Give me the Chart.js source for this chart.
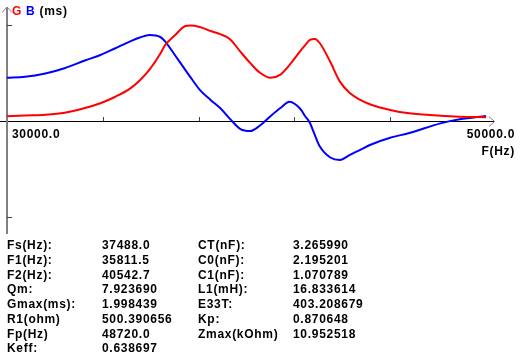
<!DOCTYPE html>
<html>
<head>
<meta charset="utf-8">
<script src="https://cdn.jsdelivr.net/npm/chart.js@4"></script>
<style>
  html, body { margin: 0; padding: 0; background: #fff; }
  #wrap { position: relative; width: 521px; height: 360px; overflow: hidden; }
  canvas { position: absolute; left: 0; top: 0; }
  .t { position: absolute; font-family: "Liberation Sans", Arial, sans-serif; font-weight: bold;
       font-size: 12px; line-height: 12px; letter-spacing: 0.7px; color: #000; white-space: nowrap; }
</style>
</head>
<body>
<div id="wrap">
  <canvas id="c" width="521" height="360"></canvas>
</div>
<script>
// ---- data ----
const freqHz = [30000, 30750, 31600, 32400, 33250, 33900, 34500, 35150, 35550, 35950,
  36400, 36600, 37000, 37450, 37650, 38050, 38500, 38900, 39300, 39750,
  40150, 40550, 41000, 41400, 41800, 42250, 42450, 42650, 42850, 43050,
  43500, 43900, 44300, 44750, 45150, 46000, 46800, 48100, 48900, 50000];
const gValues = [0.10, 0.115, 0.13, 0.17, 0.27, 0.37, 0.50, 0.68, 0.85, 1.07,
  1.40, 1.58, 1.78, 1.98, 1.99, 1.96, 1.875, 1.81, 1.71, 1.44,
  1.21, 1.01, 0.90, 0.96, 1.17, 1.46, 1.58, 1.69, 1.71, 1.63,
  1.23, 0.82, 0.59, 0.44, 0.35, 0.23, 0.16, 0.11, 0.09, 0.077];
const bValues = [0.90, 0.92, 0.99, 1.10, 1.26, 1.375, 1.51, 1.66, 1.74, 1.79,
  1.75, 1.66, 1.38, 1.06, 0.92, 0.65, 0.44, 0.27, 0.05, -0.17,
  -0.21, -0.10, 0.10, 0.265, 0.40, 0.25, 0.10, -0.04, -0.29, -0.52,
  -0.76, -0.81, -0.71, -0.60, -0.50, -0.35, -0.25, -0.05, 0.035, 0.104];
const xTickValues = [34000, 38000, 42000, 46000];
const yTickValues = [2, -2];
const xEndLabels = ["30000.0", "50000.0"];
const axisUnitX = "F(Hz)";
const axisTitleParts = [["G", "#ff0000"], [" B", "#0000ff"], [" (ms)", "#000000"]];

const tableLabels1 = ["Fs(Hz):", "F1(Hz):", "F2(Hz):", "Qm:", "Gmax(ms):", "R1(ohm)", "Fp(Hz)", "Keff:"];
const tableValues1 = ["37488.0", "35811.5", "40542.7", "7.923690", "1.998439", "500.390656", "48720.0", "0.638697"];
const tableLabels2 = ["CT(nF):", "C0(nF):", "C1(nF):", "L1(mH):", "E33T:", "Kp:", "Zmax(kOhm)"];
const tableValues2 = ["3.265990", "2.195201", "1.070789", "16.833614", "403.208679", "0.870648", "10.952518"];

// ---- table (HTML text) ----
const wrap = document.getElementById('wrap');
function addText(txt, x, baseline) {
  const d = document.createElement('div');
  d.className = 't';
  d.textContent = txt;
  d.style.left = x + 'px';
  d.style.top = (baseline - 10.2) + 'px';
  wrap.appendChild(d);
}
const colX = [7, 102, 198, 293];
tableLabels1.forEach((s, i) => addText(s, colX[0], 249.5 + i * 14.7));
tableValues1.forEach((s, i) => addText(s, colX[1], 249.5 + i * 14.7));
tableLabels2.forEach((s, i) => addText(s, colX[2], 249.5 + i * 14.7));
tableValues2.forEach((s, i) => addText(s, colX[3], 249.5 + i * 14.7));

// ---- axes plugin ----
const axesPlugin = {
  id: 'axesPlugin',
  beforeDatasetsDraw(chart) {
    const ctx = chart.ctx;
    const xs = chart.scales.x, ys = chart.scales.y;
    const x0 = xs.getPixelForValue(30000), x1 = xs.getPixelForValue(50000);
    const y0 = ys.getPixelForValue(0);
    ctx.save();
    ctx.strokeStyle = '#000';
    ctx.lineWidth = 1;
    ctx.beginPath();
    ctx.moveTo(0, Math.round(y0) + 0.5);
    ctx.lineTo(x1 + 8, Math.round(y0) + 0.5);
    ctx.stroke();
    ctx.strokeStyle = '#808080';
    ctx.beginPath();
    ctx.moveTo(x1 + 3, Math.round(y0) - 4.5);
    ctx.lineTo(x1 + 8.5, Math.round(y0) + 0.5);
    ctx.lineTo(x1 + 3, Math.round(y0) + 5.5);
    ctx.stroke();
    ctx.strokeStyle = '#808080';
    ctx.lineWidth = 2;
    ctx.beginPath();
    ctx.moveTo(Math.round(x0), 8);
    ctx.lineTo(Math.round(x0), 234);
    ctx.stroke();
    ctx.lineWidth = 1;
    ctx.beginPath();
    ctx.moveTo(Math.round(x0) - 5, 12.5);
    ctx.lineTo(Math.round(x0), 7);
    ctx.lineTo(Math.round(x0) + 5, 12.5);
    ctx.stroke();
    ctx.strokeStyle = '#404040';
    yTickValues.forEach(v => {
      const py = Math.round(ys.getPixelForValue(v)) + 0.5;
      ctx.beginPath();
      ctx.moveTo(x0, py);
      ctx.lineTo(x0 + 5, py);
      ctx.stroke();
    });
    xTickValues.forEach(v => {
      const px = Math.round(xs.getPixelForValue(v)) + 0.5;
      ctx.beginPath();
      ctx.moveTo(px, Math.round(y0) - 4);
      ctx.lineTo(px, Math.round(y0));
      ctx.stroke();
    });
    ctx.font = 'bold 12px "Liberation Sans", Arial, sans-serif';
    ctx.letterSpacing = '0.7px';
    ctx.fillStyle = '#000';
    ctx.textBaseline = 'alphabetic';
    ctx.textAlign = 'left';
    ctx.fillText(xEndLabels[0], x0 + 5, Math.round(y0) + 17);
    ctx.textAlign = 'right';
    ctx.fillText(xEndLabels[1], x1 + 29, Math.round(y0) + 17);
    ctx.fillText(axisUnitX, x1 + 29, Math.round(y0) + 34);
    ctx.textAlign = 'left';
    let tx = x0 + 5;
    axisTitleParts.forEach(([s, col]) => {
      ctx.fillStyle = col;
      ctx.fillText(s, tx, 15);
      tx += ctx.measureText(s).width;
    });
    ctx.restore();
  }
};

new Chart(document.getElementById('c'), {
  type: 'line',
  data: {
    datasets: [
      { label: 'G', data: freqHz.map((f, i) => ({ x: f, y: gValues[i] })),
        borderColor: '#ff0000', borderWidth: 2, pointRadius: 0, cubicInterpolationMode: 'monotone', fill: false, clip: false },
      { label: 'B', data: freqHz.map((f, i) => ({ x: f, y: bValues[i] })),
        borderColor: '#0000ff', borderWidth: 2, pointRadius: 0, cubicInterpolationMode: 'monotone', fill: false, clip: false }
    ]
  },
  options: {
    responsive: false,
    animation: false,
    devicePixelRatio: 1,
    layout: { padding: { left: 7, right: 35, top: 25, bottom: 143 } },
    plugins: { legend: { display: false }, tooltip: { enabled: false } },
    scales: {
      x: { type: 'linear', min: 30000, max: 50000, display: false },
      y: { min: -2, max: 2, display: false }
    }
  },
  plugins: [axesPlugin]
});
</script>
</body>
</html>
